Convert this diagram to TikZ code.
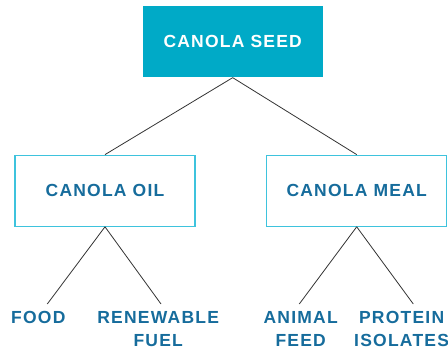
\documentclass[tikz,border=0pt]{standalone}
\usepackage{fontspec}
\setmainfont{Liberation Sans}[LetterSpace=7]
\definecolor{seedfill}{HTML}{00AAC7}
\definecolor{boxline}{HTML}{3EC3DD}
\definecolor{labelblue}{HTML}{166C9C}
\definecolor{linkgray}{HTML}{333333}
\tikzset{
  lbl/.style={font=\bfseries\fontsize{17.5}{23}\selectfont, text=labelblue},
  topbox/.style={fill=seedfill, draw=none, minimum width=180pt, minimum height=71.5pt, inner sep=0pt,
    font=\bfseries\fontsize{17.5}{23}\selectfont, text=white},
  midbox/.style={draw=boxline, line width=1.2pt, fill=white, minimum width=180pt, minimum height=71pt, inner sep=0pt, lbl},
  leaf/.style={lbl, align=center, inner sep=0pt, anchor=north},
  link/.style={draw=linkgray, line width=0.8pt}
}
\begin{document}
\begin{tikzpicture}[x=1pt,y=-1pt]
\useasboundingbox (0,0) rectangle (448,353);
\node[topbox] (seed) at (232.7,41.7) {CANOLA SEED};
\node[midbox] (oil) at (105,190.7) {CANOLA OIL};
\node[midbox] (meal) at (356.7,190.7) {CANOLA MEAL};
\coordinate (foodtop) at (47.3,304);
\coordinate (fueltop) at (161,304);
\coordinate (feedtop) at (299.3,304);
\coordinate (prottop) at (413.3,304);
\node[leaf] (food) at (38.3,311.5) {FOOD};
\node[leaf] (fuel) at (158.2,311.5) {RENEWABLE\\FUEL};
\node[leaf] (feed) at (300.7,311.5) {ANIMAL\\FEED};
\node[leaf] (prot) at (401.6,311.5) {PROTEIN\\ISOLATES};
\draw[link] (seed.south) -- (oil.north);
\draw[link] (seed.south) -- (meal.north);
\draw[link] (oil.south) -- (foodtop);
\draw[link] (oil.south) -- (fueltop);
\draw[link] (meal.south) -- (feedtop);
\draw[link] (meal.south) -- (prottop);
\end{tikzpicture}
\end{document}
